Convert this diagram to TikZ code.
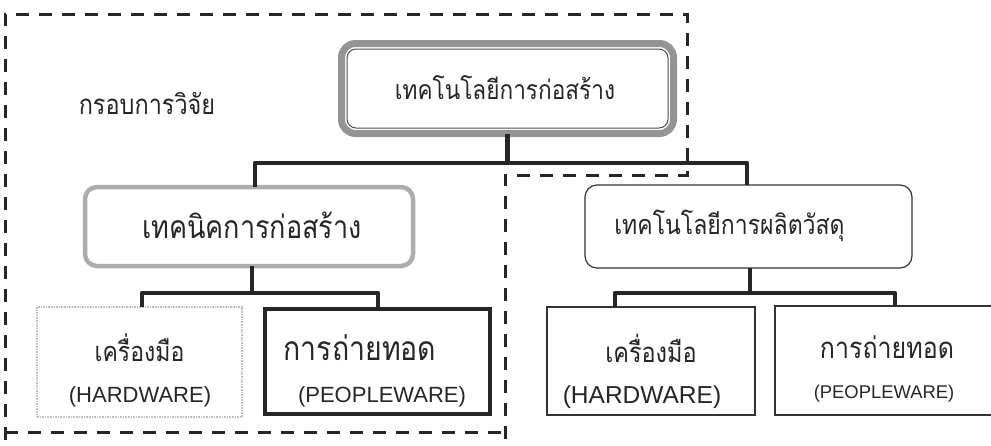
\documentclass[tikz,border=0pt]{standalone}
\usepackage{fontspec}
\setmainfont{Liberation Sans}
\newfontfamily\thaifont[Script=Thai, FakeStretch=0.85]{Loma}
\begin{document}
\begin{tikzpicture}[x=1pt,y=-1pt,
  frame/.style={line width=3pt, dash pattern=on 13pt off 10pt, draw=black!85},
  conn/.style={line width=4.4pt, draw=black!85, line join=round},
  box/.style={outer sep=0pt, inner sep=0pt},
  th/.style={font=\thaifont\fontsize{#1}{#1}\selectfont, text=black!85, inner sep=0pt},
  en/.style={font=\fontsize{#1}{#1}\selectfont, text=black!85, inner sep=0pt}]
\useasboundingbox (0,0) rectangle (991,445);
\fill[white] (0,0) rectangle (991,445);

% research frame
\draw[frame] (5,440) -- (5,14) -- (687,14) -- (687,175) -- (505,175) -- (505,445);
\draw[frame] (5,432) -- (505,432);

% boxes
\node[box, draw=black!42, line width=7pt, rounded corners=14pt, minimum width=332pt, minimum height=90pt] (top) at (507.5,88.5) {};
\draw[black!70, line width=1pt, rounded corners=9pt] ([shift={(5.5,5.5)}]top.north west) rectangle ([shift={(-5.5,-5.5)}]top.south east);
\node[box, draw=black!32, line width=4.5pt, rounded corners=12pt, minimum width=328pt, minimum height=79pt] (midL) at (249,226.5) {};
\node[box, draw=black!80, line width=1.2pt, rounded corners=12pt, minimum width=327pt, minimum height=83pt] (midR) at (748.5,226.5) {};
\node[box, draw=black!25, line width=1.6pt, densely dotted, minimum width=205pt, minimum height=110pt] (hwL) at (139.5,362) {};
\node[box, draw=black!85, line width=4.5pt, minimum width=225pt, minimum height=105pt] (pwL) at (377.5,361.5) {};
\node[box, draw=black!80, line width=1.2pt, minimum width=208pt, minimum height=108pt] (hwR) at (651,361) {};
\node[box, draw=black!80, line width=1.2pt, minimum width=235pt, minimum height=109pt] (pwR) at (892.5,360.5) {};

% connectors
\coordinate (b1) at (0,163);
\coordinate (b2) at (0,293);
\draw[conn] (top.south) -- (top.south |- b1);
\draw[conn] ([xshift=6pt]midL.north) |- (top.south |- b1) -| ([xshift=-1.5pt]midR.north);
\draw[conn] ([xshift=3pt]midL.south) -- ([xshift=3pt]midL.south |- b2);
\draw[conn] ([xshift=2.5pt]hwL.north) |- ([xshift=3pt]midL.south |- b2) -| ([xshift=0.5pt]pwL.north);
\draw[conn] ([xshift=1.5pt]midR.south) -- ([xshift=1.5pt]midR.south |- b2);
\draw[conn] ([xshift=-36pt]hwR.north) |- ([xshift=1.5pt]midR.south |- b2) -| ([xshift=2.5pt]pwR.north);

% texts
\node[th=27.6] (lbl) at (147,103) {กรอบการวิจัย};
\node[th=26.6] (ttop) at (505,88) {เทคโนโลยีการก่อสร้าง};
\node[th=31.8] (tmidL) at (252,225) {เทคนิคการก่อสร้าง};
\node[th=27.1] (tmidR) at (729.5,226) {เทคโนโลยีการผลิตวัสดุ};
\node[th=27.1] (thwL) at (139.5,348) {เครื่องมือ};
\node[en=22] (ehwL) at (140,397) {(HARDWARE)};
\node[th=33.5] (tpwL) at (360,348) {การถ่ายทอด};
\node[en=22] (epwL) at (382,397) {(PEOPLEWARE)};
\node[th=27.6] (thwR) at (651,348) {เครื่องมือ};
\node[en=24.5] (ehwR) at (642,397) {(HARDWARE)};
\node[th=29.4] (tpwR) at (887,347) {การถ่ายทอด};
\node[en=18.4] (epwR) at (884,394) {(PEOPLEWARE)};
\end{tikzpicture}
\end{document}
